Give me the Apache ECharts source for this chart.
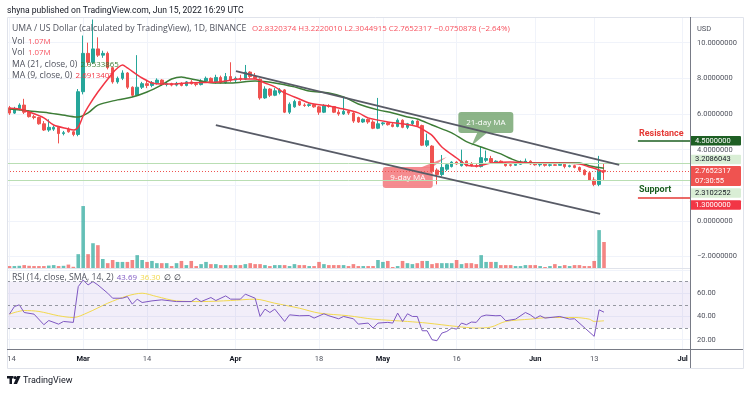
<!DOCTYPE html>
<html>
<head>
<meta charset="utf-8">
<title>UMA / US Dollar</title>
<script src="https://cdn.jsdelivr.net/npm/echarts@6/dist/echarts.min.js"></script>
<style>
  html, body { margin: 0; padding: 0; background: #ffffff; }
  #chart { width: 750px; height: 393px; }
</style>
</head>
<body>
<div id="chart"></div>
<script>
// UMA/USD 日线 (Feb 14 – Jun 15 2022)，数值都是读图估出来的
var FONT = "Roboto";
var LEG_FONT = "Open Sans";
var upColor = "#26a69a";
var downColor = "#ef5350";
var gridColor = "#f0f3fa";

// 日期类目：Feb 14 .. Jul 2
var dates = [];
(function () {
  var d = new Date(Date.UTC(2022, 1, 14));
  for (var k = 0; k < 139; k++) {
    var m = d.getUTCMonth() + 1, day = d.getUTCDate();
    dates.push((m < 10 ? "0" : "") + m + "-" + (day < 10 ? "0" : "") + day);
    d.setUTCDate(day + 1);
  }
})();

// x 轴刻度 (下标从 Feb 14 = 0 开始)
var tickIdx = [0, 15, 28, 46, 63, 76, 91, 107, 119, 137];
var tickText = ["14", "Mar", "14", "Apr", "18", "May", "16", "Jun", "13", "Jul"];

// [open, high, low, close]
var ohlc = [
  [6.35,6.45,5.95,6.05],[6.05,6.40,6.00,6.30],[6.30,6.60,6.20,6.50],[6.50,6.85,6.00,6.10],
  [6.10,6.20,5.80,5.85],[5.85,5.95,5.70,5.80],[5.80,5.85,5.40,5.45],[5.45,5.60,5.05,5.10],
  [5.10,5.70,5.00,5.25],[5.15,5.35,5.05,5.25],[5.25,5.30,4.35,4.90],[4.90,5.05,4.80,4.95],
  [5.15,5.25,4.95,5.00],[5.00,5.05,4.75,4.85],[4.85,7.40,4.75,7.25],[7.25,10.4,7.10,9.40],
  [9.40,10.0,8.70,8.90],[8.90,11.3,8.80,9.65],[9.65,10.3,9.20,9.30],[9.30,9.55,9.15,9.40],
  [9.40,9.50,8.50,8.60],[8.60,8.65,7.70,7.80],[7.80,8.10,7.70,8.00],[8.00,8.45,7.90,8.30],
  [8.30,8.35,7.40,7.50],[7.50,7.55,6.95,7.05],[7.05,9.30,7.00,7.50],[7.50,7.80,7.40,7.70],
  [7.70,7.85,7.45,7.60],[7.60,7.85,7.50,7.75],[7.75,8.00,7.65,7.90],[7.90,7.95,7.60,7.65],
  [7.65,7.80,7.55,7.70],[7.70,7.75,7.55,7.62],[7.62,7.80,7.55,7.72],[7.72,7.78,7.55,7.60],
  [7.60,7.85,7.55,7.80],[7.80,7.90,7.65,7.70],[7.70,7.75,7.55,7.65],[7.65,7.95,7.60,7.85],
  [7.85,8.10,7.75,8.00],[8.00,8.05,7.75,7.80],[7.80,8.20,7.70,8.05],[8.05,8.15,7.70,7.75],
  [7.75,8.30,7.70,8.10],[8.10,8.90,7.80,7.90],[7.90,8.10,7.75,8.00],[8.00,8.20,7.85,7.95],
  [7.95,8.75,7.90,8.35],[8.35,8.40,8.00,8.10],[8.10,8.30,7.95,8.00],[7.95,8.00,6.80,6.90],
  [6.90,7.55,6.85,7.40],[7.40,7.45,6.95,7.05],[7.05,7.45,7.00,7.30],[7.20,7.45,7.10,7.35],
  [7.35,7.40,6.05,6.10],[6.10,6.65,6.00,6.55],[6.40,6.80,6.35,6.70],[6.70,6.75,6.45,6.50],
  [6.50,6.60,6.40,6.48],[6.48,6.60,6.40,6.52],[6.52,6.55,6.35,6.40],[6.40,6.45,5.95,6.10],
  [6.10,6.55,6.05,6.45],[6.45,6.55,6.35,6.42],[6.42,6.45,6.05,6.10],[6.10,6.25,5.90,6.00],
  [6.00,6.90,5.95,6.15],[6.15,6.20,5.95,6.05],[6.05,6.10,5.50,5.60],[5.80,5.85,5.50,5.55],
  [5.55,5.75,5.50,5.70],[5.70,5.75,5.45,5.55],[5.55,5.65,5.15,5.20],[5.20,6.90,5.15,5.45],
  [5.45,5.55,5.35,5.50],[5.50,5.55,5.35,5.40],[5.40,5.50,5.25,5.30],[5.30,5.75,5.25,5.65],
  [5.65,5.70,5.20,5.25],[5.25,5.50,5.15,5.45],[5.45,5.65,5.35,5.60],[5.60,5.65,5.30,5.35],
  [5.35,5.40,4.20,4.25],[4.25,4.90,4.15,4.50],[4.20,4.25,2.70,2.80],[2.85,2.95,2.05,2.60],
  [2.60,3.70,2.50,3.00],[2.90,3.20,2.80,3.15],[3.05,3.35,3.00,3.30],[3.30,3.35,3.15,3.20],
  [3.10,4.00,3.05,3.35],[3.35,3.40,3.05,3.10],[3.20,3.30,3.05,3.10],[3.10,3.20,3.00,3.05],
  [3.05,4.15,3.00,3.55],[3.40,3.95,3.30,3.50],[3.50,3.65,3.25,3.30],[3.30,3.40,3.25,3.35],
  [3.35,3.40,3.20,3.25],[3.25,3.30,3.05,3.10],[3.15,3.25,3.05,3.12],[3.12,3.25,3.10,3.18],
  [3.18,3.40,3.15,3.30],[3.30,3.50,3.25,3.35],[3.35,3.40,3.15,3.20],[3.20,3.30,3.10,3.15],
  [3.15,3.25,3.05,3.18],[3.18,3.25,3.05,3.12],[3.12,3.20,3.05,3.15],[3.15,3.25,3.10,3.12],
  [3.12,3.30,3.10,3.18],[3.18,3.20,2.95,3.05],[3.05,3.15,3.00,3.10],[3.10,3.15,2.95,3.00],
  [3.00,3.05,2.75,2.85],[2.85,2.90,2.55,2.60],[2.70,2.75,2.25,2.30],[2.30,2.45,1.95,2.05],
  [2.05,3.65,1.95,2.84],[2.832,3.222,2.304,2.765]
];

// 成交量 (M)
var volume = [
  0.08,0.08,0.09,0.12,0.09,0.08,0.08,0.08,0.10,0.12,
  0.08,0.09,0.14,0.05,0.57,2.55,0.57,1.02,0.94,0.37,
  0.20,0.33,0.25,0.25,0.25,0.33,0.53,0.33,0.25,0.29,
  0.20,0.20,0.20,0.08,0.20,0.29,0.12,0.29,0.08,0.16,
  0.25,0.16,0.16,0.12,0.12,0.12,0.12,0.12,0.16,0.20,
  0.16,0.16,0.12,0.08,0.12,0.12,0.12,0.08,0.16,0.12,
  0.12,0.08,0.08,0.25,0.16,0.12,0.12,0.12,0.12,0.08,
  0.16,0.08,0.08,0.08,0.08,0.33,0.25,0.29,0.04,0.08,
  0.29,0.20,0.16,0.20,0.29,0.29,0.16,0.20,0.20,0.20,
  0.20,0.33,0.16,0.20,0.20,0.16,0.53,0.25,0.25,0.25,
  0.12,0.12,0.12,0.08,0.08,0.12,0.12,0.12,0.08,0.04,
  0.08,0.16,0.08,0.12,0.08,0.12,0.12,0.08,0.08,0.29,
  1.56,1.07
];

// 均线 [day, value]
var ma21 = [[0,6.28],[4,6.17],[8,6.06],[12,5.89],[14,5.83],[16,6.06],[18,6.5],[22,6.79],[25,6.95],
  [28,7.23],[31,7.63],[33,7.96],[35,8.08],[36,8.02],[39,7.85],[42,7.74],[45,7.74],[50,7.85],
  [54,7.74],[58,7.52],[61,7.29],[65,7.18],[68,6.96],[71,6.56],[75,6.23],[78,6.06],[81,5.83],
  [83,5.72],[86,5.38],[90,4.94],[93,4.45],[96,4.15],[100,3.76],[102,3.5],[104,3.31],[108,3.25],
  [116,3.25],[118,3.1],[121,2.95]];
var ma9 = [[0,6.32],[2,6.28],[4,6.11],[7,5.78],[9,5.38],[12,5.16],[13,5.10],[14,5.27],[15,5.9],
  [16,6.4],[18,7.23],[21,8.3],[22,8.58],[23,8.75],[24,8.58],[26,8.19],[27,8.02],[29,7.74],
  [31,7.68],[33,7.68],[36,7.74],[39,7.76],[43,7.81],[47,7.96],[50,7.96],[52,7.74],[54,7.52],
  [56,7.18],[59,6.84],[61,6.62],[65,6.45],[67,6.34],[71,6.06],[73,5.78],[77,5.55],[80,5.45],
  [83,5.30],[84,5.15],[86,4.8],[88,4.15],[91,3.53],[93,3.14],[95,3.08],[98,3.25],[102,3.31],
  [107,3.25],[111,3.25],[116,3.2],[118,3.03],[120,2.86],[121,2.69]];

// RSI(14) 和它的 SMA(14)
var rsi = [[0,42],[1,48.5],[2,50],[3,43.4],[5,42],[7,32.9],[8,36.5],[10,33.4],[11,35.7],[13,34.9],
  [14,65.7],[15,71.4],[16,67.1],[17,70],[18,67.1],[20,60],[21,55.7],[23,55.7],[24,57.1],[25,50.6],
  [26,54.9],[27,52],[29,53.4],[31,54.3],[34,52.8],[37,52.8],[38,55.7],[39,52.8],[41,56.3],[42,53.7],
  [44,57.7],[45,54.9],[47,54.9],[48,59.2],[50,55.7],[51,40],[52,46.3],[53,43.4],[54,46.3],[56,35.7],
  [57,41.4],[59,40.6],[61,40.8],[62,38.6],[64,42.3],[65,40.6],[67,38],[68,40],[70,38],[71,33.4],
  [73,34.3],[74,30],[75,34.3],[77,34.9],[78,34.3],[79,42.9],[80,35.7],[81,42.3],[82,40],[83,40],
  [84,27.7],[85,27.7],[86,20],[87,19.1],[88,25.7],[89,27.1],[90,30],[91,29.1],[92,34.3],[93,32.9],
  [94,35.2],[95,34.9],[96,40],[97,41.2],[99,40.6],[100,40.8],[101,36.3],[103,37.7],[105,43.4],
  [106,41.4],[107,38.3],[108,40.6],[109,38.6],[112,40],[114,37.7],[115,38],[119,22.9],[120,45.7],
  [121,43.69]];
var rsiSma = [[0,42],[3,45.1],[6,44.3],[10,40.6],[13,39.1],[16,43.4],[20,51.4],[24,57.7],[27,60],
  [30,57.1],[34,53.4],[39,52.8],[45,53.7],[50,54.9],[54,51.4],[59,47.1],[63,42.9],[69,40.6],
  [74,37.7],[81,35.7],[85,34.3],[91,31.4],[95,30],[98,30.9],[101,35.7],[106,37.7],[110,39.1],
  [115,39.1],[118,37.7],[119,35.7],[121,36.3]];

// 画线工具：通道、阻力/支撑
var channelUpper = [[46.1, 8.41], [124.1, 3.14]];
var channelLower = [[42, 5.38], [120.2, 0.39]];
var resistance = 4.5;
var support = 1.3;
var levelHi = 3.2086043;
var levelLo = 2.3102252;
var lastPrice = 2.7652317;

var candleData = ohlc.map(function (r) { return [r[0], r[3], r[2], r[1]]; });
var volData = volume.map(function (v, i) {
  var up = ohlc[i][3] >= ohlc[i][0];
  return { value: v, itemStyle: { color: up ? "rgba(38,166,154,0.7)" : "rgba(239,83,80,0.7)" } };
});

function priceLabel(v) {
  return (v < 0 ? "\u2212" : "") + Math.abs(v).toFixed(7);
}

var option = {
  animation: false,
  backgroundColor: "#ffffff",
  textStyle: { fontFamily: FONT },
  grid: [
    { left: 7, top: 17, width: 683, height: 251 },
    { left: 7, top: 268, width: 683, height: 81 }
  ],
  xAxis: [
    { type: "category", gridIndex: 0, data: dates, show: false },
    {
      type: "category", gridIndex: 1, data: dates,
      axisLine: { show: false }, axisTick: { show: false }, splitLine: { show: false },
      axisLabel: {
        interval: function (i) { return tickIdx.indexOf(i) >= 0; },
        formatter: function (v, i) {
          var t = tickText[tickIdx.indexOf(i)] || "";
          if (i === 0) return "{f|" + t + "}";
          return /^[A-Z]/.test(t) ? "{m|" + t + "}" : t;
        },
        fontSize: 7.5, color: "#50535e", margin: 6, fontFamily: FONT,
        rich: {
          m: { fontSize: 7.5, fontWeight: "bold", color: "#131722", fontFamily: FONT },
          f: { fontSize: 7.5, color: "#50535e", fontFamily: FONT, padding: [0, 0, 0, 4] }
        }
      }
    },
    {
      type: "value", gridIndex: 0, min: -0.5, max: 138.5,
      axisLine: { show: false }, axisLabel: { show: false },
      axisTick: { show: false, customValues: tickIdx },
      splitLine: { show: true, lineStyle: { color: gridColor, width: 1 } }
    },
    {
      type: "value", gridIndex: 1, min: -0.5, max: 138.5,
      axisLine: { show: false }, axisLabel: { show: false },
      axisTick: { show: false, customValues: tickIdx },
      splitLine: { show: true, lineStyle: { color: gridColor, width: 1 } }
    }
  ],
  yAxis: [
    {
      type: "value", gridIndex: 0, position: "right", min: -2.64, max: 11.44, scale: true,
      axisLine: { show: false },
      axisTick: { show: false, customValues: [-2, 0, 2, 4, 6, 8, 10] },
      axisLabel: {
        customValues: [-2, 0, 4, 6, 8, 10], formatter: priceLabel,
        fontSize: 7.5, color: "#50535e", margin: 7, fontFamily: FONT
      },
      splitLine: { show: true, lineStyle: { color: gridColor } }
    },
    { type: "value", gridIndex: 0, min: 0, max: 10.33, show: false },
    {
      type: "value", gridIndex: 1, position: "right", min: 12, max: 81.7, scale: true,
      axisLine: { show: false },
      axisTick: { show: false, customValues: [20, 40, 60, 80] },
      axisLabel: {
        customValues: [20, 40, 60],
        formatter: function (v) { return v.toFixed(2); },
        fontSize: 7.5, color: "#50535e", margin: 7, fontFamily: FONT
      },
      splitLine: { show: true, lineStyle: { color: gridColor } }
    }
  ],
  series: [
    {
      name: "Vol", type: "bar", xAxisIndex: 0, yAxisIndex: 1,
      data: volData, barWidth: 3.6, silent: true, z: 1
    },
    {
      name: "UMA", type: "candlestick", xAxisIndex: 0, yAxisIndex: 0,
      data: candleData, barWidth: 3, silent: true, z: 3,
      itemStyle: {
        color: upColor, color0: downColor,
        borderColor: upColor, borderColor0: downColor, borderWidth: 1
      },
      markLine: {
        silent: true, symbol: ["none", "none"], label: { show: false },
        data: [
          { yAxis: levelHi, lineStyle: { color: "#b9deb3", width: 1, type: "solid" } },
          { yAxis: levelLo, lineStyle: { color: "#b9deb3", width: 1, type: "solid" } },
          { yAxis: lastPrice, lineStyle: { color: "#ef5350", width: 1, type: [1, 2] } }
        ]
      }
    },
    {
      name: "MA21", type: "line", xAxisIndex: 0, yAxisIndex: 0, data: ma21,
      smooth: 0.3, showSymbol: false, silent: true, z: 4,
      lineStyle: { color: "#3d7d36", width: 1.5 }
    },
    {
      name: "MA9", type: "line", xAxisIndex: 0, yAxisIndex: 0, data: ma9,
      smooth: 0.3, showSymbol: false, silent: true, z: 4,
      lineStyle: { color: "#f23645", width: 1.5 }
    },
    {
      name: "channel", type: "lines", coordinateSystem: "cartesian2d",
      xAxisIndex: 2, yAxisIndex: 0, silent: true, z: 5,
      lineStyle: { color: "#585b66", width: 1.8, opacity: 1, curveness: 0 },
      data: [{ coords: channelUpper }, { coords: channelLower }]
    },
    {
      name: "levels", type: "lines", coordinateSystem: "cartesian2d",
      xAxisIndex: 2, yAxisIndex: 0, silent: true, z: 5,
      lineStyle: { width: 1.5, opacity: 1, curveness: 0 },
      data: [
        { coords: [[127.9, resistance], [138.5, resistance]], lineStyle: { color: "#1b5e20" } },
        { coords: [[127.9, support], [138.5, support]], lineStyle: { color: "#e53935" } }
      ]
    },
    {
      name: "RSI", type: "line", xAxisIndex: 1, yAxisIndex: 2, data: rsi,
      showSymbol: false, silent: true, z: 4,
      lineStyle: { color: "#7e57c2", width: 1 },
      markArea: {
        silent: true,
        itemStyle: { color: "rgba(126,87,194,0.1)" },
        data: [[{ yAxis: 30 }, { yAxis: 70 }]]
      },
      markLine: {
        silent: true, symbol: ["none", "none"], label: { show: false },
        lineStyle: { color: "#9598a1", width: 1, type: [3, 3] },
        data: [{ yAxis: 70 }, { yAxis: 50 }, { yAxis: 30 }]
      }
    },
    {
      name: "RSI-SMA", type: "line", xAxisIndex: 1, yAxisIndex: 2, data: rsiSma,
      smooth: 0.3, showSymbol: false, silent: true, z: 3,
      lineStyle: { color: "#f2d94e", width: 1 }
    }
  ]
};

var chart = echarts.init(document.getElementById("chart"));
chart.setOption(option);

function py(v) { return chart.convertToPixel({ yAxisIndex: 0 }, v); }
function px(d) { return chart.convertToPixel({ xAxisIndex: 2 }, d); }

function txt(x, y, text, size, color, extra, family) {
  var st = { text: text, fill: color, fontSize: size, fontFamily: family || FONT, verticalAlign: "middle" };
  for (var k in extra || {}) st[k] = extra[k];
  return { type: "text", x: x, y: y, style: st, z: 120 };
}

// 图例：灰色说明 + 彩色数值
function legend(x, y, parts) {
  var rich = {}, text = "";
  parts.forEach(function (p, k) {
    rich["p" + k] = { fill: p[1], fontSize: p[2], fontFamily: LEG_FONT };
    text += (k ? " " : "") + "{p" + k + "|" + p[0] + "}";
  });
  return { type: "text", x: x, y: y, z: 120, style: { text: text, rich: rich, verticalAlign: "middle" } };
}

function tag(val, dy, h, bg, fg, label) {
  var y = py(val) + dy;
  return {
    type: "group", z: 130,
    children: [
      { type: "rect", shape: { x: 690, y: y - h / 2, width: 51, height: h, r: 1 }, style: { fill: bg } },
      txt(695, y, label, 7.5, fg, { lineHeight: 10 })
    ]
  };
}

function callout(tipDay, tipVal, box, base, fill, label) {
  var tx = px(tipDay), ty = py(tipVal);
  return {
    type: "group", z: 125,
    children: [
      { type: "polygon", shape: { points: [[tx + base[0], ty + base[1]], [tx + base[2], ty + base[3]], [tx, ty]] }, style: { fill: fill } },
      { type: "rect", shape: { x: tx + box[0], y: ty + box[1], width: box[2], height: box[3], r: 3 }, style: { fill: fill } },
      { type: "text", x: tx + box[0] + box[2] / 2, y: ty + box[1] + box[3] / 2,
        style: { text: label, fill: "#ffffff", fontSize: 8, fontFamily: LEG_FONT, align: "center", verticalAlign: "middle" } }
    ]
  };
}

var gray = "#50535e", red = "#f7525f";
var graphics = [
  { type: "rect", shape: { x: 7.5, y: 17.5, width: 736, height: 351 }, style: { fill: "none", stroke: "#e0e3eb", lineWidth: 1 }, z: 100 },
  { type: "line", shape: { x1: 7, y1: 268.5, x2: 690, y2: 268.5 }, style: { stroke: "#e0e3eb", lineWidth: 1 }, z: 100 },
  { type: "line", shape: { x1: 690.5, y1: 17, x2: 690.5, y2: 368 }, style: { stroke: "#787b86", lineWidth: 1 }, z: 100 },
  { type: "line", shape: { x1: 7, y1: 349.5, x2: 743, y2: 349.5 }, style: { stroke: "#787b86", lineWidth: 1 }, z: 100 },

  txt(7, 11, "shyna published on TradingView.com, Jun 15, 2022 16:29 UTC", 8.6, "#131722"),
  legend(12, 29, [
    ["UMA / US Dollar (calculated by TradingView), 1D, BINANCE ", gray, 8.7],
    ["O2.8320374 H3.2220010 L2.3044915 C2.7652317 \u22120.0750878 (\u22122.64%)", red, 7.9]
  ]),
  legend(12, 41.5, [["Vol", gray, 8.7], ["1.07M", red, 7.9]]),
  legend(12, 53, [["Vol", gray, 8.7], ["1.07M", red, 7.9]]),
  legend(12, 64.5, [["MA (21, close, 0)", gray, 8.7], ["2.9533865", "#3d7d36", 7.9]]),
  legend(12, 76, [["MA (9, close, 0)", gray, 8.7], ["2.6913407", "#f23645", 7.9]]),
  legend(12, 277.5, [
    ["RSI (14, close, SMA, 14, 2)", gray, 8.7], ["43.69", "#7e57c2", 7.9],
    ["36.30", "#f2d94e", 7.9], ["\u2205", "#131722", 7.9], ["\u2205", "#131722", 7.9]
  ]),
  txt(697, 29, "USD", 7.5, gray),

  // 价格轴标签
  tag(resistance, 0, 9.5, "#1e5f24", "#ffffff", "4.5000000"),
  tag(levelHi, -4.3, 9.5, "#d9eed5", "#131722", "3.2086043"),
  tag(lastPrice, 4.3, 20, "#ef5350", "#ffffff", "2.7652317\n07:30:55"),
  tag(levelLo, 13.2, 9.5, "#d9eed5", "#131722", "2.3102252"),
  tag(support, 7.2, 9.5, "#f23645", "#ffffff", "1.3000000"),

  // 文字标注
  txt(px(127.9) + 1, py(resistance) - 6.5, "Resistance", 9, "#e53935", { fontWeight: "bold" }),
  txt(px(127.9) + 1, py(support) - 8, "Support", 9, "#1b5e20", { fontWeight: "bold" }),
  callout(94, 4.2, [-13, -34, 55, 21], [6, -13.5, 16, -13.5], "rgba(115,163,110,0.82)", "21-day MA"),
  callout(89, 3.59, [-64, 10, 50, 21], [-26, 10.5, -15, 10.5], "rgba(242,110,115,0.8)", "9-day MA"),

  // TradingView logo
  { type: "rect", shape: { x: 7, y: 376, width: 6.5, height: 2.5 }, style: { fill: "#131722" }, z: 120 },
  { type: "rect", shape: { x: 9.5, y: 376, width: 2.5, height: 8 }, style: { fill: "#131722" }, z: 120 },
  { type: "circle", shape: { cx: 15.2, cy: 377.6, r: 1.6 }, style: { fill: "#131722" }, z: 120 },
  { type: "polygon", shape: { points: [[17.2, 376], [20.6, 376], [17, 384], [13.6, 384]] }, style: { fill: "#131722" }, z: 120 },
  txt(23, 380.5, "TradingView", 9, "#131722")
];

chart.setOption({ graphic: graphics });
</script>
</body>
</html>
